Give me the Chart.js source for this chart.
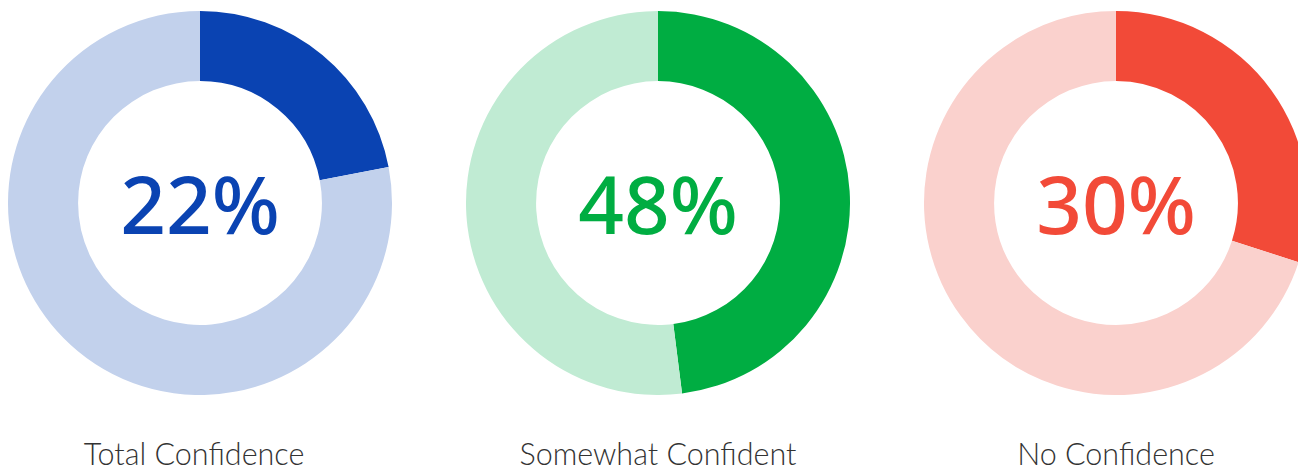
<!DOCTYPE html>
<html>
<head>
<meta charset="utf-8">
<script src="https://cdn.jsdelivr.net/npm/chart.js@4"></script>
<style>
  html, body { margin: 0; padding: 0; background: #fff; }
  body { width: 1298px; height: 470px; position: relative; overflow: hidden; }
  .box { position: absolute; top: 11px; width: 384px; height: 384px; }
  .label {
    position: absolute; top: 435px; width: 384px; text-align: center;
    font-family: Lato, sans-serif; font-weight: 300; font-size: 30.5px; color: #333;
  }
</style>
</head>
<body>
<div class="box" style="left:8px"><canvas id="c0"></canvas></div>
<div class="box" style="left:466px"><canvas id="c1"></canvas></div>
<div class="box" style="left:924px"><canvas id="c2"></canvas></div>
<div class="label" style="left:2px" id="l0"></div>
<div class="label" style="left:466px" id="l1"></div>
<div class="label" style="left:924px" id="l2"></div>
<script>
const categories = ["Total Confidence", "Somewhat Confident", "No Confidence"];
const shares = [22, 48, 30];
const mainColors = ["#0a43b2", "#00ad42", "#f24a38"];
const restColors = ["#c2d1ec", "#c0ebd3", "#fad1cd"];

// draws the percentage in the hole
const centerText = {
  id: "centerText",
  afterDraw(chart, args, opts) {
    const { ctx, chartArea } = chart;
    const x = (chartArea.left + chartArea.right) / 2;
    const y = (chartArea.top + chartArea.bottom) / 2;
    ctx.save();
    ctx.font = "500 80px 'Noto Sans', sans-serif";
    ctx.fillStyle = opts.color;
    ctx.textAlign = "center";
    ctx.textBaseline = "middle";
    ctx.fillText(opts.text, x, y + 8);
    ctx.restore();
  }
};

categories.forEach((name, i) => {
  document.getElementById("l" + i).textContent = name;
  new Chart(document.getElementById("c" + i), {
    type: "doughnut",
    data: {
      labels: [name, "Other"],
      datasets: [{
        data: [shares[i], 100 - shares[i]],
        backgroundColor: [mainColors[i], restColors[i]],
        borderWidth: 0
      }]
    },
    options: {
      responsive: true,
      maintainAspectRatio: false,
      animation: false,
      cutout: "63.5%",
      plugins: {
        legend: { display: false },
        tooltip: { enabled: false },
        centerText: { text: shares[i] + "%", color: mainColors[i] }
      }
    },
    plugins: [centerText]
  });
});
</script>
</body>
</html>
